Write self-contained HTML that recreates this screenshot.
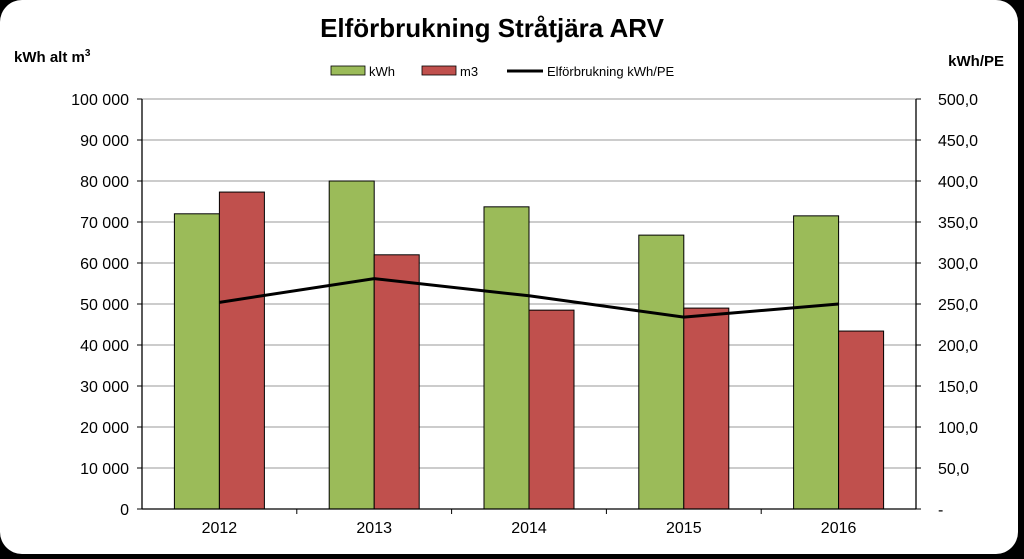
<!DOCTYPE html>
<html><head><meta charset="utf-8"><style>
html,body{margin:0;padding:0;background:#000;}
svg{display:block;font-family:"Liberation Sans",Arial,sans-serif;}
</style></head><body>
<svg id="c" width="1024" height="559" viewBox="0 0 1024 559">
<rect x="0" y="0" width="1018" height="554" rx="22" fill="#fff"/>
<text x="492" y="37" text-anchor="middle" font-size="26" font-weight="bold">Elförbrukning Stråtjära ARV</text>
<text x="14" y="62" font-size="15" font-weight="bold">kWh alt m<tspan font-size="10" dy="-6">3</tspan></text>
<text x="1004" y="66" text-anchor="end" font-size="15" font-weight="bold">kWh/PE</text>
<g>
<g><rect x="331" y="66" width="34" height="9" fill="#9bbb59" stroke="#000" stroke-width="0.8"/><text x="369" y="76" font-size="13">kWh</text></g>
<g><rect x="422" y="66" width="34" height="9" fill="#c0504d" stroke="#000" stroke-width="0.8"/><text x="460" y="76" font-size="13">m3</text></g>
<g><line x1="507" y1="71" x2="543" y2="71" stroke="#000" stroke-width="3"/><text x="547" y="76" font-size="13">Elförbrukning kWh/PE</text></g>
</g>
<g id="grid"></g><g id="bars"></g><g id="axes"></g><g id="line"></g>
</svg>
<script>
const categories=["2012","2013","2014","2015","2016"];
const kwhValues=[72000,80000,73700,66800,71500];
const m3Values=[77300,62000,48500,49000,43400];
const peValues=[252,281,260,234,250];
const leftTicks=["0","10 000","20 000","30 000","40 000","50 000","60 000","70 000","80 000","90 000","100 000"];
const rightTicks=["-","50,0","100,0","150,0","200,0","250,0","300,0","350,0","400,0","450,0","500,0"];
const NS="http://www.w3.org/2000/svg";
const X0=142,X1=916,Y0=509,Y1=99,LMAX=100000,RMAX=500;
const yL=v=>Y0-(v/LMAX)*(Y0-Y1), yR=v=>Y0-(v/RMAX)*(Y0-Y1);
const bw=(X1-X0)/categories.length, xc=i=>X0+bw*(i+0.5);
function mk(t,a,p){const e=document.createElementNS(NS,t);for(const k in a)e.setAttribute(k,a[k]);p.appendChild(e);return e;}
const grid=document.getElementById('grid'),axes=document.getElementById('axes'),bars=document.getElementById('bars'),line=document.getElementById('line');
leftTicks.forEach((t,i)=>{const y=yL(i*LMAX/10);
 if(i>0){const g=mk('line',{x1:X0,x2:X1,y1:y,y2:y,stroke:'#9a9a9a','stroke-width':1},grid);}
 mk('line',{x1:X0-5,x2:X0,y1:y,y2:y,stroke:'#000'},axes);mk('line',{x1:X1,x2:X1+5,y1:y,y2:y,stroke:'#000'},axes);
 const a=mk('text',{x:X0-13,y:y+6,'text-anchor':'end','font-size':16},axes);a.textContent=t;
 const b=mk('text',{x:X1+22,y:y+6,'font-size':16},axes);b.textContent=rightTicks[i];
});
mk('line',{x1:X0,x2:X0,y1:Y1,y2:Y0,stroke:'#000','stroke-width':1.3},axes);
mk('line',{x1:X1,x2:X1,y1:Y1,y2:Y0,stroke:'#000','stroke-width':1.3},axes);
mk('line',{x1:X0,x2:X1,y1:Y0,y2:Y0,stroke:'#000','stroke-width':1.3},axes);
categories.forEach((c,i)=>{const cx=xc(i),w=45;
 const g=mk('rect',{x:cx-w,y:yL(kwhValues[i]),width:w,height:Y0-yL(kwhValues[i]),fill:'#9bbb59',stroke:'#000','stroke-width':1},bars);
 const r=mk('rect',{x:cx,y:yL(m3Values[i]),width:w,height:Y0-yL(m3Values[i]),fill:'#c0504d',stroke:'#000','stroke-width':1},bars);
 if(i>0)mk('line',{x1:X0+bw*i,x2:X0+bw*i,y1:Y0,y2:Y0+5,stroke:'#000'},axes);
 const t=mk('text',{x:cx,y:Y0+24,'text-anchor':'middle','font-size':16},axes);t.textContent=c;
});
const pl=mk('polyline',{points:peValues.map((v,i)=>xc(i)+','+yR(v)).join(' '),fill:'none',stroke:'#000','stroke-width':3},line);


</script>
</body></html>
